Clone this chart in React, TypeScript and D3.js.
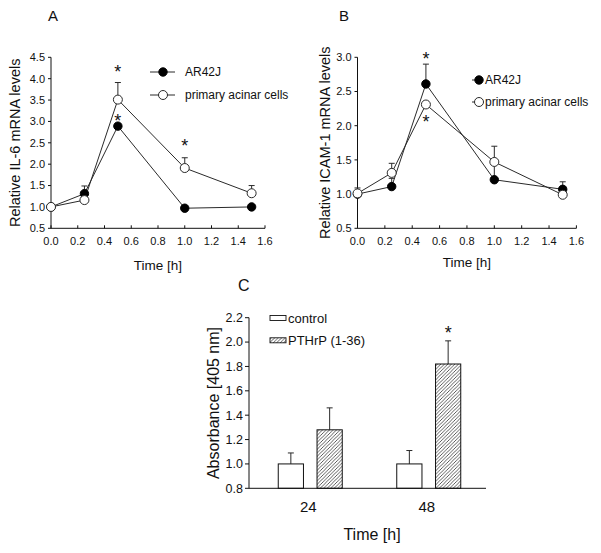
import React from "react";
import * as d3 from "d3";

// ---------- data ----------
const timesH = [0, 0.25, 0.5, 1.0, 1.5];

const il6AR42J = [1.0, 1.31, 2.89, 0.97, 1.0];
const il6AR42JErr = [0, 0.18, 0.05, 0, 0];
const il6Primary = [1.0, 1.16, 3.51, 1.91, 1.32];
const il6PrimaryErr = [0, 0.05, 0.4, 0.24, 0.18];
const il6Stars = [
  { x: 0.5, y: 4.25 },
  { x: 0.5, y: 3.1 },
  { x: 1.0, y: 2.52 },
];

const icamAR42J = [1.0, 1.11, 2.61, 1.21, 1.07];
const icamAR42JErr = [0, 0.12, 0.29, 0.26, 0.11];
const icamPrimary = [1.01, 1.31, 2.31, 1.47, 0.99];
const icamPrimaryErr = [0.08, 0.14, 0, 0.23, 0];
const icamStars = [
  { x: 0.5, y: 3.03 },
  { x: 0.5, y: 2.12 },
];

const xTicksAB = [0, 0.2, 0.4, 0.6, 0.8, 1.0, 1.2, 1.4, 1.6];
const yTicksA = [0.5, 1.0, 1.5, 2.0, 2.5, 3.0, 3.5, 4.0, 4.5];
const yTicksB = [0.5, 1.0, 1.5, 2.0, 2.5, 3.0];
const seriesNames = ["AR42J", "primary acinar cells"];

const groupsC = ["24", "48"];
const controlC = [1.0, 1.0];
const controlCErr = [0.09, 0.11];
const pthrpC = [1.28, 1.82];
const pthrpCErr = [0.18, 0.19];
const barSeriesC = ["control", "PTHrP (1-36)"];
const yTicksC = [0.8, 1.0, 1.2, 1.4, 1.6, 1.8, 2.0, 2.2];
const starsC = [{ g: "48", s: 1, y: 2.11 }];

// ---------- styles ----------
const FONT = "Liberation Sans, Arial, Helvetica, sans-serif";
const INK = "#111";
const LINE = "#2a2a2a";

function Star({ x, y, size }: { x: number; y: number; size: number }) {
  return (
    <text x={x} y={y + size * 0.56} fontSize={size} textAnchor="middle" fill={INK} fontFamily={FONT}>
      *
    </text>
  );
}

type LinePanelProps = {
  letter: string;
  letterX: number;
  yTitle: string;
  yTitleX: number;
  xTitleY: number;
  left: number;
  right: number;
  top: number;
  bottom: number;
  yDomain: [number, number];
  yTicks: number[];
  s1: number[];
  e1: number[];
  s2: number[];
  e2: number[];
  stars: { x: number; y: number }[];
  legend: { lineX0: number; lineX1: number; markX: number; textX: number; rowY: number[] };
};

function LinePanel(p: LinePanelProps) {
  const x = d3.scaleLinear().domain([0, 1.6]).range([p.left, p.right]);
  const y = d3.scaleLinear().domain(p.yDomain).range([p.bottom, p.top]);
  const line = d3
    .line<number>()
    .x((_, i) => x(timesH[i]))
    .y((d) => y(d));
  const errBars = (vals: number[], errs: number[], key: string) =>
    vals.map((v, i) =>
      errs[i] > 0 ? (
        <g key={key + i} stroke={LINE} strokeWidth={1}>
          <line x1={x(timesH[i])} x2={x(timesH[i])} y1={y(v)} y2={y(v + errs[i])} />
          <line x1={x(timesH[i]) - 3} x2={x(timesH[i]) + 3} y1={y(v + errs[i])} y2={y(v + errs[i])} />
        </g>
      ) : null
    );
  const cx = (p.left + p.right) / 2;
  const cy = (p.top + p.bottom) / 2;
  return (
    <g fontFamily={FONT} fill={INK}>
      <text x={p.letterX} y={20.5} fontSize={15}>
        {p.letter}
      </text>
      {/* axes */}
      <line x1={p.left} x2={p.left} y1={p.top} y2={p.bottom} stroke={INK} />
      <line x1={p.left} x2={p.right} y1={p.bottom} y2={p.bottom} stroke={INK} />
      {p.yTicks.map((t) => (
        <g key={"y" + t}>
          <line x1={p.left - 3} x2={p.left} y1={y(t)} y2={y(t)} stroke={INK} />
          <text x={p.left - 6} y={y(t)} dy="0.35em" fontSize={11} textAnchor="end">
            {d3.format(".1f")(t)}
          </text>
        </g>
      ))}
      {xTicksAB.map((t) => (
        <g key={"x" + t}>
          <line x1={x(t)} x2={x(t)} y1={p.bottom} y2={p.bottom - 3} stroke={INK} />
          <text x={x(t)} y={p.bottom + 16.5} fontSize={11} textAnchor="middle">
            {d3.format(".1f")(t)}
          </text>
        </g>
      ))}
      <text x={cx} y={p.xTitleY} fontSize={13.5} textAnchor="middle">
        Time [h]
      </text>
      <text
        transform={`translate(${p.yTitleX},${cy}) rotate(-90)`}
        dy="0.35em"
        fontSize={14.5}
        textAnchor="middle"
      >
        {p.yTitle}
      </text>
      {/* lines */}
      <path d={line(p.s1) || ""} fill="none" stroke={LINE} strokeWidth={1} />
      <path d={line(p.s2) || ""} fill="none" stroke={LINE} strokeWidth={1} />
      {errBars(p.s1, p.e1, "a")}
      {errBars(p.s2, p.e2, "b")}
      {p.s1.map((v, i) => (
        <circle key={"d1" + i} cx={x(timesH[i])} cy={y(v)} r={4.2} fill="#000" stroke="#000" />
      ))}
      {p.s2.map((v, i) => (
        <circle key={"d2" + i} cx={x(timesH[i])} cy={y(v)} r={4.5} fill="#fff" stroke={LINE} strokeWidth={1} />
      ))}
      {p.stars.map((s, i) => (
        <Star key={"s" + i} x={x(s.x)} y={y(s.y)} size={18} />
      ))}
      {/* legend */}
      {seriesNames.map((n, i) => (
        <g key={n}>
          <line
            x1={p.legend.lineX0}
            x2={p.legend.lineX1}
            y1={p.legend.rowY[i]}
            y2={p.legend.rowY[i]}
            stroke={LINE}
          />
          <circle
            cx={p.legend.markX}
            cy={p.legend.rowY[i]}
            r={i === 0 ? 4.2 : 4.5}
            fill={i === 0 ? "#000" : "#fff"}
            stroke={i === 0 ? "#000" : LINE}
          />
          <text x={p.legend.textX} y={p.legend.rowY[i]} dy="0.35em" fontSize={12}>
            {n}
          </text>
        </g>
      ))}
    </g>
  );
}

function BarPanel() {
  const left = 249,
    right = 486,
    top = 317.7,
    bottom = 488.3;
  const x0 = d3.scaleBand<string>().domain(groupsC).range([left, right]);
  const x1 = d3.scaleBand<string>().domain(barSeriesC).range([-32, 32]).paddingInner(0.35);
  const y = d3.scaleLinear().domain([0.8, 2.2]).range([bottom, top]);
  const vals = [controlC, pthrpC];
  const errs = [controlCErr, pthrpCErr];
  const fills = ["#fff", "url(#hatch)"];
  const gc = (g: string) => (x0(g) as number) + x0.bandwidth() / 2 + 2;
  return (
    <g fontFamily={FONT} fill={INK}>
      <defs>
        <pattern id="hatch" patternUnits="userSpaceOnUse" width={3.5} height={3.5}>
          <rect width={3.5} height={3.5} fill="#fff" />
          <path d="M-1,1 l2,-2 M0,3.5 l3.5,-3.5 M2.5,4.5 l2,-2" stroke="#333" strokeWidth={0.8} />
        </pattern>
      </defs>
      <text x={238} y={291} fontSize={16}>
        C
      </text>
      {barSeriesC.map((s, si) =>
        groupsC.map((g, gi) => {
          const bx = gc(g) + (x1(s) as number);
          const w = x1.bandwidth();
          const v = vals[si][gi];
          const e = errs[si][gi];
          return (
            <g key={s + g}>
              <line x1={bx + w / 2} x2={bx + w / 2} y1={y(v)} y2={y(v + e)} stroke={LINE} />
              <line x1={bx + w / 2 - 3} x2={bx + w / 2 + 3} y1={y(v + e)} y2={y(v + e)} stroke={LINE} />
              <rect x={bx} y={y(v)} width={w} height={bottom - y(v)} fill={fills[si]} stroke={INK} strokeWidth={1} />
            </g>
          );
        })
      )}
      {starsC.map((s, i) => (
        <Star
          key={i}
          x={gc(s.g) + (x1(barSeriesC[s.s]) as number) + x1.bandwidth() / 2}
          y={y(s.y)}
          size={18}
        />
      ))}
      <line x1={left} x2={left} y1={top} y2={bottom} stroke={INK} />
      <line x1={left} x2={right} y1={bottom} y2={bottom} stroke={INK} />
      {yTicksC.map((t) => (
        <g key={t}>
          <line x1={left - 4} x2={left} y1={y(t)} y2={y(t)} stroke={INK} />
          <text x={left - 6} y={y(t)} dy="0.35em" fontSize={12.5} textAnchor="end">
            {d3.format(".1f")(t)}
          </text>
        </g>
      ))}
      {groupsC.map((g) => (
        <text key={g} x={(x0(g) as number) + x0.bandwidth() / 2} y={512} fontSize={15} textAnchor="middle">
          {g}
        </text>
      ))}
      <text x={372} y={540} fontSize={16} textAnchor="middle">
        Time [h]
      </text>
      <text transform={`translate(213,${(top + bottom) / 2}) rotate(-90)`} dy="0.35em" fontSize={16} textAnchor="middle">
        Absorbance [405 nm]
      </text>
      {barSeriesC.map((s, i) => (
        <g key={s}>
          <rect x={270} y={315.5 + i * 22.3} width={16} height={5} fill={fills[i]} stroke={INK} strokeWidth={0.9} />
          <text x={288} y={318 + i * 22.3} dy="0.35em" fontSize={13}>
            {s}
          </text>
        </g>
      ))}
    </g>
  );
}

export default function App() {
  return (
    <svg
      width={601}
      height={553}
      viewBox="0 0 601 553"
      style={{ position: "absolute", left: 0, top: 0, background: "#fff" }}
    >
      <rect width={601} height={553} fill="#fff" />
      <LinePanel
        letter="A"
        letterX={48}
        yTitle="Relative IL-6 mRNA levels"
        yTitleX={15}
        xTitleY={270}
        left={51}
        right={265}
        top={57.3}
        bottom={228.3}
        yDomain={[0.5, 4.5]}
        yTicks={yTicksA}
        s1={il6AR42J}
        e1={il6AR42JErr}
        s2={il6Primary}
        e2={il6PrimaryErr}
        stars={il6Stars}
        legend={{ lineX0: 150, lineX1: 175, markX: 163, textX: 185, rowY: [72, 95] }}
      />
      <LinePanel
        letter="B"
        letterX={339}
        yTitle="Relative ICAM-1 mRNA levels"
        yTitleX={325}
        xTitleY={267}
        left={357.5}
        right={576.4}
        top={57.3}
        bottom={228.3}
        yDomain={[0.5, 3.0]}
        yTicks={yTicksB}
        s1={icamAR42J}
        e1={icamAR42JErr}
        s2={icamPrimary}
        e2={icamPrimaryErr}
        stars={icamStars}
        legend={{ lineX0: 472, lineX1: 479, markX: 479, textX: 485, rowY: [80, 102] }}
      />
      <BarPanel />
    </svg>
  );
}
